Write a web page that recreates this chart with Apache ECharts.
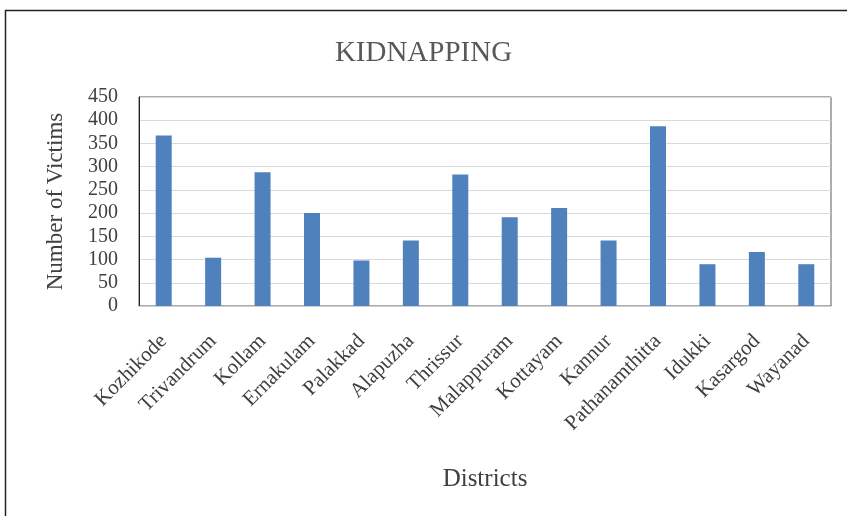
<!DOCTYPE html>
<html><head><meta charset="utf-8">
<script src="https://cdn.jsdelivr.net/npm/echarts@6/dist/echarts.min.js"></script>
<style>html,body{margin:0;padding:0;background:#fff}#c{width:847px;height:516px}</style>
</head><body><div id="c"></div>
<script>
const districts = ["Kozhikode","Trivandrum","Kollam","Ernakulam","Palakkad","Alapuzha","Thrissur","Malappuram","Kottayam","Kannur","Pathanamthitta","Idukki","Kasargod","Wayanad"];
const victims = [367,104,288,200,98,141,283,191,211,141,387,90,116,90];
const yTicks = [0,50,100,150,200,250,300,350,400,450];
const FONT = "Liberation Serif";
const chart = echarts.init(document.getElementById('c'));
chart.setOption({
  animation:false,
  graphic:[{type:'rect',shape:{x:5.5,y:10.5,width:860,height:520},style:{fill:'none',stroke:'#222',lineWidth:1.5},silent:true}],
  title:{text:'KIDNAPPING',left:'center',top:34,textStyle:{fontFamily:FONT,fontSize:29,fontWeight:'normal',color:'#595959'}},
  grid:{left:139,right:16,top:97,bottom:210,show:true,borderColor:'#595959',borderWidth:1},
  xAxis:{type:'category',data:districts,name:'Districts',nameLocation:'middle',nameGap:161,
    nameTextStyle:{fontFamily:FONT,fontSize:25,color:'#404040'},
    axisLine:{lineStyle:{color:'#d0d0d0'}},axisTick:{show:false},
    axisLabel:{rotate:45,interval:0,fontFamily:FONT,fontSize:21,color:'#404040',margin:32}},
  yAxis:{type:'value',min:yTicks[0],max:yTicks[yTicks.length-1],interval:50,name:'Number of Victims',nameLocation:'middle',nameGap:72,
    nameTextStyle:{fontFamily:FONT,fontSize:23,color:'#404040'},
    axisLine:{show:true,lineStyle:{color:'#222'}},axisTick:{show:false},
    axisLabel:{fontFamily:FONT,fontSize:20,color:'#404040',margin:21},
    splitLine:{lineStyle:{color:'#d9d9d9'}}},
  series:[{type:'bar',data:victims,barWidth:16,itemStyle:{color:'#4f81bd'}}]
});
</script></body></html>
